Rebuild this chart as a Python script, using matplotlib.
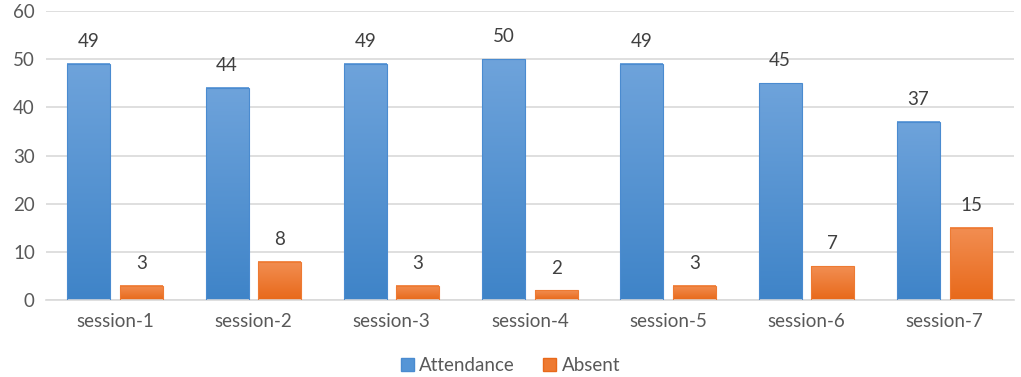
import matplotlib
matplotlib.use('Agg')
import matplotlib.pyplot as plt
import numpy as np
from matplotlib.colors import LinearSegmentedColormap
from matplotlib.patches import Patch

sessions = ['session-1', 'session-2', 'session-3', 'session-4',
            'session-5', 'session-6', 'session-7']
attendance = [49, 44, 49, 50, 49, 45, 37]
absent = [3, 8, 3, 2, 3, 7, 15]

plt.rcParams['font.family'] = ['Lato', 'DejaVu Sans']
FS = 13.5

fig = plt.figure(figsize=(10.21, 3.77), dpi=100)
ax = fig.add_axes([0.045, 0.204, 0.948, 0.767])

x = np.arange(len(sessions))
w = 0.31
gap = 0.035
b1 = ax.bar(x - w / 2 - gap, attendance, w, color='none', edgecolor='#4A8BD0', linewidth=0.8, zorder=3)
b2 = ax.bar(x + w / 2 + gap, absent, w, color='none', edgecolor='#EE7A32', linewidth=0.8, zorder=3)

blue_cm = LinearSegmentedColormap.from_list('b', ['#3F84C8', '#6EA3DB'])
orange_cm = LinearSegmentedColormap.from_list('o', ['#E8691A', '#F28E52'])
grad = np.linspace(0, 1, 100).reshape(-1, 1)

def fill_gradient(bars, cmap):
    for p in bars:
        x0, y0 = p.get_x(), p.get_y()
        ax.imshow(grad, cmap=cmap, origin='lower', aspect='auto',
                  extent=(x0, x0 + p.get_width(), y0, y0 + p.get_height()),
                  zorder=2)

fill_gradient(b1, blue_cm)
fill_gradient(b2, orange_cm)

for bars, vals in ((b1, attendance), (b2, absent)):
    for p, v in zip(bars, vals):
        ax.annotate(str(v), (p.get_x() + p.get_width() / 2, v),
                    xytext=(0, 10), textcoords='offset points',
                    ha='center', va='bottom', fontsize=FS, color='#404040')

ax.set_xlim(-0.5, len(sessions) - 0.5)
ax.set_ylim(0, 60)
ax.set_yticks(range(0, 61, 10))
ax.set_xticks(x)
ax.set_xticklabels(sessions)
ax.tick_params(axis='both', length=0, labelsize=FS, colors='#595959')
ax.tick_params(axis='x', pad=9)
ax.tick_params(axis='y', pad=8)
ax.grid(axis='y', color='#D9D9D9', linewidth=1.2, zorder=0)
ax.set_axisbelow(True)
for s in ['top', 'right', 'left']:
    ax.spines[s].set_visible(False)
ax.spines['bottom'].set_color('#D9D9D9')
ax.spines['bottom'].set_linewidth(1.2)

handles = [Patch(facecolor='#5595D6', edgecolor='#4A8BD0', label='Attendance'),
           Patch(facecolor='#EE7A32', edgecolor='#E8691A', label='Absent')]
fig.legend(handles=handles, loc='center', bbox_to_anchor=(0.5, 0.03), ncol=2,
           frameon=False, fontsize=FS, handlelength=0.7, handleheight=0.7,
           handletextpad=0.3, columnspacing=1.5, labelcolor='#595959')

fig.savefig('out.png', dpi=100)
